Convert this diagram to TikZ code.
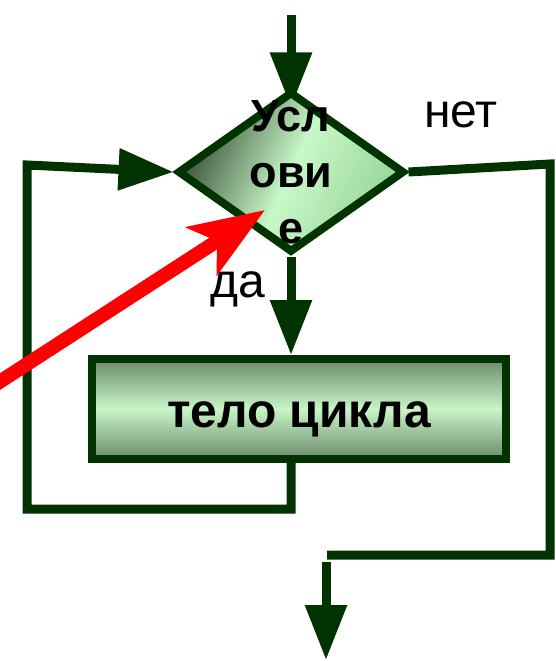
\documentclass[tikz,border=0pt]{standalone}
\usepackage{fontspec}
\setmainfont{Liberation Sans}
\usetikzlibrary{arrows.meta,shapes.geometric,backgrounds}
\definecolor{loopgreen}{HTML}{003300}
\definecolor{condDark}{HTML}{3C523C}
\definecolor{condLight}{HTML}{C8F8C8}
\definecolor{condMid}{HTML}{98D498}
\definecolor{bodyDark}{HTML}{6A8A6A}
\definecolor{bodyLight}{HTML}{C8F4C8}
\tikzset{
  loopline/.style={line width=9pt, draw=loopgreen},
  looparrow/.style={loopline, -{Triangle[length=55pt, width=40pt]}},
  condbox/.style={diamond, draw=loopgreen, line width=8pt, inner sep=0pt, minimum width=227pt, minimum height=161pt, top color=condDark, bottom color=condMid, middle color=condLight, shading angle=65},
  condtext/.style={align=center, inner sep=0pt, font=\fontsize{45}{56}\selectfont\bfseries},
  bodybox/.style={rectangle, draw=loopgreen, line width=8pt, minimum width=414pt, minimum height=100pt, top color=bodyDark, bottom color=bodyDark, middle color=bodyLight, text height=36pt, text depth=0pt, font=\fontsize{48}{56}\selectfont\bfseries},
  branchlabel/.style={anchor=base, inner sep=0pt, font=\fontsize{48}{56}\selectfont},
  pointer/.style={line width=14pt, draw=red, -{Stealth[length=75pt, width=56pt, inset=18pt]}},
}

\begin{document}
\begin{tikzpicture}[x=1pt, y=-1pt]
    \useasboundingbox (0,0) rectangle (555,661);
    \node[bodybox] (body) at (299,409) {тело цикла};
    \node[condbox] (cond) at (291,172) {};
    \node[condtext] (condlbl) at (cond) {Усл\\ови\\е};
    \node[branchlabel] (no) at (461,127) {нет};
    \node[branchlabel] (yes) at (238,297) {да};
    % entry and exit points
    \coordinate (top) at (291,15);
    \coordinate (lb) at (27,509);
    \coordinate (lt) at (27,165);
    \coordinate (rt) at (550,164);
    \coordinate (rb) at (550,555);
    \coordinate (ec) at (327,555);
    \coordinate (exit) at (326,562);
    \coordinate (end) at (326,660);
    \coordinate (ptrtail) at (-30,401);
    \coordinate (ptrtip) at (265,210);
    \begin{scope}[on background layer]
        \draw[looparrow, shorten >=-20pt] (top) -- (cond.north);
    \end{scope}
    \draw[looparrow] (cond.south) -- (cond.south |- body.north);
    \draw[looparrow] (body.south -| cond.south) |- (lb) -- (lt) -- (cond.west);
    \draw[loopline] (cond.east) -- (rt) -- (rb) -- (ec);
    \draw[looparrow] (exit) -- (end);
    \draw[pointer] (ptrtail) -- (ptrtip);
\end{tikzpicture}
\end{document}
